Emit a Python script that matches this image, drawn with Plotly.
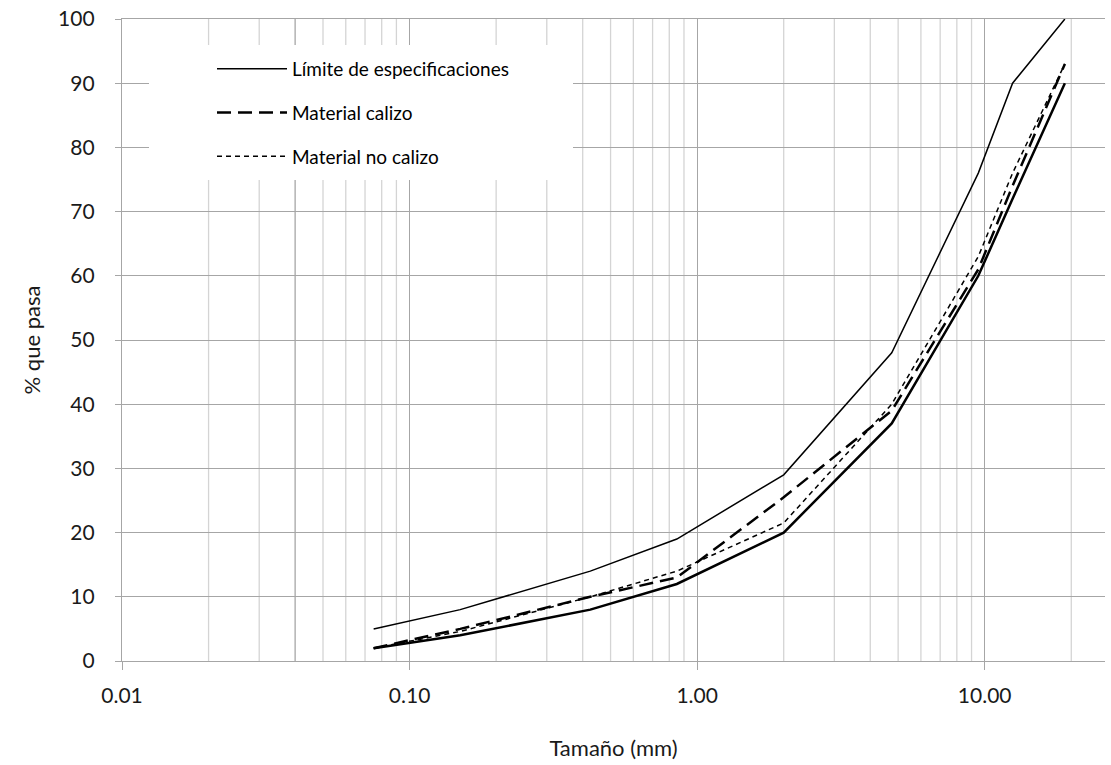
import plotly.graph_objects as go
import numpy as np

# Sieve sizes (mm)
tamano = [0.075, 0.15, 0.425, 0.85, 2.0, 4.75, 9.5, 12.5, 19.0]
# Specification limits (% passing)
limite_superior = [5, 8, 14, 19, 29, 48, 76, 90, 100]
limite_inferior = [2, 4, 8, 12, 20, 37, 60, 72, 90]
# Materials
material_calizo = [2, 5, 10, 13, 25.5, 39, 61, 74, 93]
material_no_calizo = [2, 4.6, 10, 14, 21.5, 40, 63, 76, 93]

x_ticks = [0.01, 0.1, 1, 10]
x_tick_labels = ["0.01", "0.10", "1.00", "10.00"]
y_ticks = [0, 10, 20, 30, 40, 50, 60, 70, 80, 90, 100]

FONT = "Lato, Carlito, 'Liberation Sans', sans-serif"
LEGFONT = "Lato, sans-serif"

W, H = 1111, 765
PL, PR, PT, PB = 122, 1105, 19, 661  # plot area in px

fig = go.Figure()

fig.add_trace(go.Scatter(x=tamano, y=limite_superior, mode="lines",
                         name="Límite de especificaciones", legendgroup="a",
                         line=dict(color="black", width=1.5)))
fig.add_trace(go.Scatter(x=tamano, y=limite_inferior, mode="lines",
                         name="Límite de especificaciones", legendgroup="a", showlegend=False,
                         line=dict(color="black", width=2.5)))
fig.add_trace(go.Scatter(x=tamano, y=material_calizo, mode="lines",
                         name="Material calizo", legendgroup="b",
                         line=dict(color="black", width=2.5, dash="14px,7px")))
fig.add_trace(go.Scatter(x=tamano, y=material_no_calizo, mode="lines",
                         name="Material no calizo", legendgroup="c",
                         line=dict(color="black", width=1.5, dash="5px,4px")))

pw, ph = PR - PL, PB - PT

# minor gridlines
shapes = []
for dec in [0.01, 0.1, 1, 10]:
    for m in range(2, 10):
        v = dec * m
        if v > 26:
            continue
        col = "#a6a6a6" if abs(v - 0.04) < 1e-9 else "#d4d4d4"
        shapes.append(dict(type="line", xref="x", yref="paper", x0=v, x1=v, y0=0, y1=1,
                           line=dict(color=col, width=1.3), layer="below"))
# white box behind legend
shapes.append(dict(type="rect", xref="paper", yref="paper",
                   x0=(149 - PL) / pw, x1=(573 - PL) / pw,
                   y0=(PB - 180) / ph, y1=(PB - 45) / ph,
                   fillcolor="white", line=dict(width=0), layer="above"))

fig.update_layout(
    width=W, height=H,
    margin=dict(l=PL, r=W - PR, t=PT, b=H - PB, autoexpand=False),
    paper_bgcolor="white", plot_bgcolor="white",
    font=dict(family=FONT, size=21, color="#1a1a1a"),
    shapes=shapes,
    showlegend=True,
    legend=dict(x=(212 - PL) / pw, y=(PB - 50) / ph, xanchor="left", yanchor="top",
                bgcolor="rgba(0,0,0,0)", font=dict(family=LEGFONT, size=19, color="black"),
                traceorder="grouped", tracegroupgap=16, itemwidth=70),
)

fig.update_xaxes(type="log", range=[-2, np.log10(26.2)],
                 tickvals=x_ticks, ticktext=x_tick_labels,
                 showgrid=True, gridcolor="#a6a6a6", gridwidth=1.3,
                 ticks="outside", ticklen=8, tickcolor="#a6a6a6",
                 showline=True, linecolor="#a6a6a6", linewidth=1.3, mirror=True,
                 zeroline=False, ticklabelstandoff=8, automargin=False,
                 title=dict(text="Tamaño (mm)", standoff=34, font=dict(size=22)),
                 tickfont=dict(size=21))
fig.update_yaxes(range=[0, 100], tickvals=y_ticks,
                 showgrid=True, gridcolor="#a6a6a6", gridwidth=1.3,
                 ticks="outside", ticklen=6, tickcolor="#a6a6a6",
                 showline=True, linecolor="#a6a6a6", linewidth=1.3,
                 zeroline=False, ticklabelstandoff=16, ticklabeloverflow="allow",
                 automargin=False,
                 title=dict(text="% que pasa", standoff=11, font=dict(size=22)),
                 tickfont=dict(size=21))

fig.write_html("out.html", config={"displayModeBar": False},
               post_script="document.body.style.margin='0';document.body.style.padding='0';")
